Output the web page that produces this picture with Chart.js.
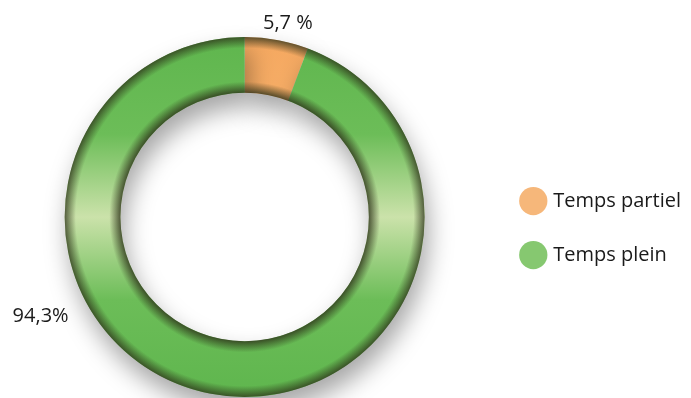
<!DOCTYPE html>
<html>
<head>
<meta charset="utf-8">
<script src="https://cdn.jsdelivr.net/npm/chart.js@4"></script>
<style>
  html, body { margin: 0; padding: 0; background: #ffffff; }
  #wrap { width: 691px; height: 398px; }
</style>
</head>
<body>
<div id="wrap"><canvas id="chart"></canvas></div>
<script>
var categories = ['Temps partiel', 'Temps plein'];
var shares = [5.7, 94.3];
var shareLabels = ['5,7 %', '94,3%'];

// angle (deg clockwise from top) where each value label sits
var labelAngles = [12.6, 244];
var labelGaps = [18, 47];

var baseColors = ['#f5a860', '#5fb64e'];
var midColors = ['#fcd9b0', '#cbe2aa'];

function sliceFill(context) {
  var chart = context.chart;
  var area = chart.chartArea;
  var i = context.dataIndex;
  if (!area) return baseColors[i];
  var g = chart.ctx.createLinearGradient(0, area.top, 0, area.bottom);
  var side = i === 0 ? '#f7b06a' : '#6cbd58';
  g.addColorStop(0, baseColors[i]);
  g.addColorStop(0.27, side);
  g.addColorStop(0.5, midColors[i]);
  g.addColorStop(0.73, side);
  g.addColorStop(1, baseColors[i]);
  return g;
}

var ringShade = {
  id: 'ringShade',
  beforeDatasetDraw: function (chart) {
    var ctx = chart.ctx;
    ctx.save();
    ctx.shadowColor = 'rgba(0,0,0,0.35)';
    ctx.shadowBlur = 24;
    ctx.shadowOffsetX = 4;
    ctx.shadowOffsetY = 14;
  },
  afterDatasetDraw: function (chart) {
    var ctx = chart.ctx;
    ctx.restore();
    var arcs = chart.getDatasetMeta(0).data;
    if (!arcs.length) return;
    var a = arcs[0];
    var inner = a.innerRadius, outer = a.outerRadius;
    var g = ctx.createRadialGradient(a.x, a.y, inner, a.x, a.y, outer);
    g.addColorStop(0, 'rgba(45,50,25,0.78)');
    g.addColorStop(0.2, 'rgba(45,50,25,0)');
    g.addColorStop(0.8, 'rgba(45,50,25,0)');
    g.addColorStop(1, 'rgba(45,50,25,0.75)');
    ctx.save();
    ctx.beginPath();
    ctx.arc(a.x, a.y, outer, 0, Math.PI * 2);
    ctx.arc(a.x, a.y, inner, 0, Math.PI * 2, true);
    ctx.fillStyle = g;
    ctx.fill('evenodd');
    ctx.restore();
  }
};

var valueLabels = {
  id: 'valueLabels',
  afterDraw: function (chart) {
    var ctx = chart.ctx;
    var arcs = chart.getDatasetMeta(0).data;
    ctx.save();
    ctx.font = '20px "Open Sans", sans-serif';
    ctx.fillStyle = '#1a1a1a';
    ctx.textAlign = 'center';
    ctx.textBaseline = 'middle';
    arcs.forEach(function (arc, i) {
      var ang = labelAngles[i] * Math.PI / 180 - Math.PI / 2;
      var r = arc.outerRadius + labelGaps[i];
      ctx.fillText(shareLabels[i], arc.x + Math.cos(ang) * r, arc.y + Math.sin(ang) * r);
    });
    ctx.restore();
  }
};

new Chart(document.getElementById('chart'), {
  type: 'doughnut',
  data: {
    labels: categories,
    datasets: [{
      data: shares,
      backgroundColor: sliceFill,
      borderWidth: 0
    }]
  },
  options: {
    responsive: true,
    maintainAspectRatio: false,
    animation: false,
    cutout: '69%',
    layout: { padding: { top: 37, bottom: 1, left: 0, right: 0 } },
    plugins: {
      tooltip: { enabled: false },
      legend: {
        position: 'right',
        align: 'center',
        title: { display: true, text: '', font: { size: 1 }, padding: { top: 21, bottom: 0 } },
        labels: {
          usePointStyle: true,
          pointStyle: 'circle',
          boxWidth: 20,
          boxHeight: 20,
          padding: 34,
          color: '#1a1a1a',
          font: { family: '"Open Sans", sans-serif', size: 20 },
          generateLabels: function (chart) {
            return categories.map(function (c, i) {
              return {
                text: c,
                fillStyle: i === 0 ? '#f6b77a' : '#86c870',
                strokeStyle: 'rgba(0,0,0,0)',
                fontColor: '#1a1a1a',
                lineWidth: 0,
                pointStyle: 'circle',
                index: i
              };
            });
          }
        }
      }
    }
  },
  plugins: [ringShade, valueLabels]
});
</script>
</body>
</html>
